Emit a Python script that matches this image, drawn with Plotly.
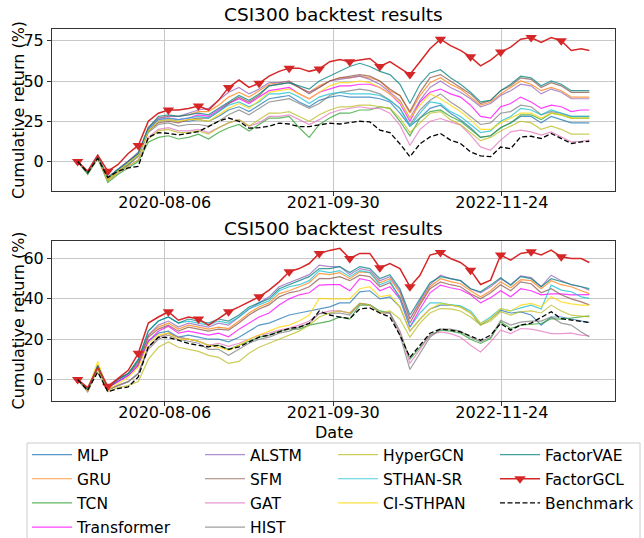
import pandas as pd
import plotly.graph_objects as go

# ---------------- data ----------------
start = pd.Timestamp("2020-01-02")
dates = [start + pd.Timedelta(days=round(25.1 * k)) for k in range(51)] + [pd.Timestamp("2023-06-30")]

tick_dates = ["2020-08-06", "2021-09-30", "2022-11-24"]

models = ["MLP", "GRU", "TCN", "Transformer", "ALSTM", "SFM", "GAT", "HIST",
          "HyperGCN", "STHAN-SR", "CI-STHPAN", "FactorVAE", "FactorGCL", "Benchmark"]

# CSI300 cumulative returns (%)
mlp_300 = [0, -7, 3, -11, -6, -2, 4, 19, 25, 26, 25, 25, 26, 25, 28, 32, 34, 31, 35, 39, 40, 41, 37, 34, 38, 40, 41, 40, 40, 40, 39, 37, 30, 22, 27, 33, 35, 30, 26, 21, 15, 16, 21, 24, 28, 28, 24, 28, 26, 24, 24, 24]
gru_300 = [0, -7, 3, -10, -5, 0, 5, 21, 27, 28, 28, 29, 31, 31, 35, 40, 43, 40, 44, 48, 49, 50, 46, 43, 47, 50, 52, 52, 53, 52, 50, 44, 41, 30, 41, 49, 52, 48, 45, 40, 35, 37, 42, 46, 50, 48, 44, 46, 44, 40, 40, 40]
tcn_300 = [0, -8, 2, -13, -8, -4, 0, 12, 15, 16, 14, 15, 17, 14, 18, 21, 23, 19, 23, 27, 27, 28, 21, 15, 23, 27, 30, 30, 32, 32, 34, 33, 25, 16, 27, 31, 32, 28, 25, 20, 15, 16, 21, 24, 29, 29, 26, 30, 29, 27, 27, 27]
transformer_300 = [0, -7, 3, -10, -5, 0, 5, 20, 26, 27, 26, 27, 29, 28, 32, 36, 39, 36, 40, 44, 45, 46, 42, 39, 43, 45, 47, 47, 48, 48, 46, 42, 36, 25, 37, 43, 45, 42, 40, 35, 28, 27, 34, 36, 40, 37, 33, 35, 34, 31, 32, 32]
alstm_300 = [0, -6, 4, -10, -5, 0, 6, 21, 27, 28, 28, 30, 32, 33, 38, 43, 46, 42, 45, 49, 49, 50, 46, 43, 46, 50, 51, 52, 53, 51, 48, 43, 38, 27, 38, 46, 50, 46, 43, 39, 34, 36, 41, 44, 48, 47, 42, 45, 43, 39, 39, 39]
sfm_300 = [0, -7, 3, -11, -6, -1, 4, 19, 24, 25, 24, 26, 27, 27, 31, 36, 40, 37, 41, 47, 48, 49, 46, 42, 46, 50, 52, 53, 54, 53, 50, 45, 41, 31, 43, 52, 54, 50, 46, 42, 36, 38, 44, 47, 52, 51, 46, 49, 47, 43, 43, 43]
gat_300 = [0, -7, 2, -12, -7, -3, 1, 15, 20, 21, 19, 19, 20, 18, 21, 24, 26, 22, 24, 28, 28, 29, 26, 23, 26, 30, 32, 33, 34, 33, 33, 30, 22.6, 10, 20, 25, 26.7, 24.6, 22.6, 16.4, 9.1, 7, 13.3, 18.4, 19.5, 18.4, 16.4, 18.4, 15.3, 12.2, 12.6, 13.3]
hist_300 = [0, -7, 2, -11, -6, -2, 3, 18, 23, 24, 22, 23, 23, 22, 25, 29, 32, 29, 33, 37, 38, 39, 36, 33, 36, 41, 43, 44, 45, 44, 42, 38, 33, 23, 32, 38, 42, 37, 33, 28, 23, 24, 30, 31, 35, 34, 29, 31, 30, 28, 28, 28]
hypergcn_300 = [0, -7, 2, -12, -7, -3, 1, 14, 19, 20, 18, 18, 19, 17, 21, 24, 26, 22, 26, 30, 30, 31, 28, 25, 29, 32, 34, 34, 35, 35, 34, 33, 27, 18, 24, 30, 31, 26, 23, 18, 13, 15, 19, 22, 25, 24, 20, 22, 20, 17, 17, 17]
sthan_300 = [0, -7, 3, -10, -5, -1, 4, 20, 26, 27, 26, 27, 28, 27, 31, 35, 37, 34, 37, 42, 42, 43, 40, 36, 40, 42, 43, 42, 42, 42, 41, 38, 33, 22, 30, 37, 36, 31, 28, 23, 18, 19, 25, 28, 33, 32, 29, 32, 30, 28, 28, 28]
cisthpan_300 = [0, -7, 3, -11, -6, -1, 4, 19, 25, 26, 25, 26, 26, 25, 29, 33, 36, 33, 38, 43, 44, 45, 42, 39, 43, 47, 49, 49, 50, 49, 46, 42, 37, 27, 35, 42, 39, 35, 31, 26, 20, 20, 24, 27, 30, 30, 27, 30, 29, 27, 27, 27]
factorvae_300 = [0, -7, 3, -10, -5, 0, 5, 21, 28, 29, 28, 29, 30, 29, 33, 37, 41, 38, 42, 47, 48, 49, 47, 45, 50, 53, 56, 59, 61, 59, 56, 54, 48, 36, 48, 55, 57, 52, 48, 43, 37, 38, 44, 48, 53, 52, 47, 50, 48, 44, 44, 44]
factorgcl_300 = [0, -6, 4, -6, -2, 5, 10, 25, 30, 32, 32, 33, 34.5, 32, 38, 46, 50.6, 46, 48.6, 53, 56, 58, 58, 56, 57.5, 62, 63.4, 62, 63, 64, 59, 62, 58, 54, 62, 70, 76, 72, 69, 65, 59.4, 63, 68, 71, 76, 77, 74, 77, 75, 69, 70, 69]
benchmark_300 = [0, -7, 2, -10, -6, -4, -3, 15, 18, 17.5, 16.5, 17.5, 18.6, 21.7, 25, 27, 25, 20.7, 21, 22, 23.8, 23.3, 21.7, 21.7, 22.7, 23.8, 23.3, 24, 25, 24.6, 19.5, 18, 11, 3, 11, 15.3, 17.4, 13.3, 11.2, 6, 3.5, 3, 9, 8, 15.3, 15.7, 14.3, 17.4, 14.3, 11.2, 12.2, 12.6]

# CSI500 cumulative returns (%)
mlp_500 = [0, -5, 6, -4, -1, 2, 7, 19, 23, 24, 21, 22, 21, 20, 20, 18.7, 21, 24, 27, 28, 30.2, 32, 33, 34, 35.2, 36, 38, 38, 43.5, 44, 40, 41, 36, 24, 30, 35, 36.9, 37, 36, 33, 27, 30, 34.4, 33, 33.5, 32, 27, 31, 31, 30, 29, 28.3]
gru_500 = [0, -5, 7, -4, 0, 3, 9, 22, 26, 28, 25, 27, 26, 25, 26, 25.3, 29, 33, 36, 38, 42.6, 44, 46, 48, 52.6, 52, 53, 50, 53.4, 53, 48, 50, 43, 30, 38, 46, 50, 48.5, 47.5, 44, 41, 44, 48.5, 45.5, 49.5, 49, 45, 49, 47, 46, 44, 42.6]
tcn_500 = [0, -5, 6, -5, -3, -1, 3, 16, 21, 23, 21, 20, 19, 17, 17, 15, 17, 19, 21, 22, 24, 25, 25, 27, 27.8, 29, 31, 30, 36.9, 37, 34, 33, 24, 10, 16, 22, 24.5, 24, 23, 20, 17.9, 20.3, 28.6, 25.3, 27, 27.5, 27.8, 30.2, 30, 30.5, 31, 31.6]
transformer_500 = [0, -5, 6, -4, -1, 2, 7, 19, 24, 26.4, 23, 24, 23, 22, 23, 21.2, 25, 28, 31, 33, 36.9, 40, 42, 43, 46.8, 47, 47, 44, 50, 49, 44, 46, 40, 26, 35, 43, 46.8, 45.5, 44.5, 42, 38, 40.5, 44, 41, 45, 44, 42, 42.5, 42.5, 42, 42, 42.1]
alstm_500 = [0, -6, 7, -4, 0, 3, 9, 22, 27, 29, 26, 28, 27, 26, 28, 27, 31, 35, 38, 41, 46, 48, 50, 52, 56.7, 56, 56, 52, 55, 54, 49, 51, 44, 30, 39, 47, 51.7, 50, 49, 45, 43, 46, 50, 47, 51.4, 50.5, 46, 51.7, 49, 47, 46, 44.3]
sfm_500 = [0, -5, 6, -4, 0, 3, 8, 21, 25, 27, 24, 26, 25, 24, 25, 24.5, 28, 32, 35, 37, 41, 43, 44, 46, 50, 50, 51, 49, 51.7, 51, 46, 48, 41, 28, 37, 45, 48.4, 47, 46, 42.5, 40, 43, 47, 44, 48.4, 47.5, 43, 45, 42, 40, 38.5, 37]
gat_500 = [0, -6, 6, -5, -3, -1, 3, 16, 21, 23, 21, 20, 19, 17, 18, 16.5, 18, 20, 22, 23, 24.5, 25.5, 27, 29, 32.7, 34, 34, 33, 37.7, 37, 33, 33, 24, 8, 15, 22, 23.6, 22.8, 21, 17, 13.7, 18.7, 24.5, 22.8, 25.3, 25, 24, 22.8, 22.8, 23, 22, 21.7]
hist_500 = [0, -5, 6, -5, -3, -1, 3, 15, 20, 22, 20, 19, 18, 15, 15, 12, 15, 18, 20, 21, 23, 24, 26, 28, 32.7, 33, 33, 32, 37.7, 37, 33, 33, 22, 5, 13, 21, 25, 25, 24, 21, 18.7, 21, 29.4, 27, 28.5, 29, 29, 31, 28, 27, 23.6, 21.2]
hypergcn_500 = [0, -6, 5, -6, -4, -3, -1, 10, 16, 18.7, 16, 15, 14, 12, 11, 8, 9, 13, 16, 18, 20, 22, 24, 27, 31, 33, 34, 33, 37.7, 37, 33, 34, 30, 21, 28, 33, 35.2, 35, 34, 31, 27, 29, 33.6, 32, 33.6, 34, 33, 36.9, 34, 31.9, 31.5, 31.1]
sthan_500 = [0, -5, 6, -4, 0, 3, 10, 24, 29, 31, 28, 29, 28, 27, 29, 28, 31, 35, 37, 39, 44, 46, 47, 49, 54, 53, 54, 51, 54, 53, 47, 49, 40, 26, 33, 38, 38, 37, 36.5, 34, 27.8, 31, 35.2, 34, 35.5, 36.9, 35, 46.8, 44.3, 43.5, 41, 40.2]
cisthpan_500 = [0, -5, 9, -5, -2, 1, 6, 18, 22, 23, 20, 20, 19, 17, 16, 14.5, 17, 20, 22, 24, 26, 27, 29, 32, 40.2, 40, 40, 40, 45, 46, 41, 42, 36, 24, 30, 35, 37.7, 37, 36, 33, 27.8, 30, 35.2, 34, 36.9, 37.7, 36, 41, 38.5, 37.5, 36.9, 36.9]
factorvae_500 = [0, -5, 7, -4, 0, 3, 10, 24, 29, 31, 28, 30, 29, 28, 30, 29, 32, 36, 38, 40, 45, 47, 49, 51, 55, 55, 56, 53, 56, 55, 50, 52, 45, 32, 40, 48, 51, 50, 49, 45, 43.5, 46.8, 50.4, 46.8, 51, 50, 46, 50, 48.4, 47.1, 46, 45.1]
factorgcl_500 = [0, -4, 6, -3.3, 0.5, 4.6, 13, 28, 31, 33.6, 29.4, 31, 30, 27, 30.2, 33.6, 36, 38.5, 41, 44.3, 48.4, 53.4, 55, 57.5, 62.5, 64, 65, 60, 62.5, 62.5, 55.4, 57.5, 55, 46, 51.7, 61.7, 63, 60, 58, 54.2, 47.1, 49.3, 61.7, 59.2, 62.5, 63.3, 61.7, 64.1, 60.8, 60, 60, 58]
benchmark_500 = [0, -5.3, 3.8, -6, -4.5, -3.6, 1.3, 16.2, 21, 20.8, 19.5, 17.9, 17, 16.2, 17, 15, 16.2, 18.7, 21, 22, 23.6, 25.3, 26, 27.8, 34, 32, 31, 30.2, 35, 35.5, 33, 31, 22, 11, 17, 23, 25, 24.5, 23.6, 21.5, 19.5, 22, 27.8, 24.5, 27, 28, 31, 33.6, 30.2, 29.4, 28.6, 28.3]

csi300 = [mlp_300, gru_300, tcn_300, transformer_300, alstm_300, sfm_300, gat_300, hist_300,
          hypergcn_300, sthan_300, cisthpan_300, factorvae_300, factorgcl_300, benchmark_300]
csi500 = [mlp_500, gru_500, tcn_500, transformer_500, alstm_500, sfm_500, gat_500, hist_500,
          hypergcn_500, sthan_500, cisthpan_500, factorvae_500, factorgcl_500, benchmark_500]

# ---------------- style ----------------
colors = ["#1f77b4", "#ff7f0e", "#2ca02c", "#ff00ff", "#9467bd", "#8c564b", "#e377c2", "#7f7f7f",
          "#bcbd22", "#17becf", "#ffd700", "#008080", "#d62728", "#000000"]
legend_of = ["legend", "legend", "legend", "legend", "legend2", "legend2", "legend2", "legend2",
             "legend3", "legend3", "legend3", "legend4", "legend4", "legend4"]

FONT = "DejaVu Sans"
RED = "#d62728"
marker_colors = [RED if (i % 3 == 0 and i <= 48) else "rgba(0,0,0,0)" for i in range(len(dates))]

fig = go.Figure()
for panel, (series_set, xa, ya) in enumerate([(csi300, "x", "y"), (csi500, "x2", "y2")]):
    for i, (name, vals) in enumerate(zip(models, series_set)):
        kw = dict(x=dates, y=vals, name=name, xaxis=xa, yaxis=ya,
                  legend=legend_of[i], legendgroup=name, legendrank=i,
                  showlegend=(panel == 0), hoverinfo="skip")
        if name == "FactorGCL":
            fig.add_trace(go.Scatter(mode="lines+markers",
                                     line=dict(color=colors[i], width=1.5),
                                     marker=dict(symbol="triangle-down", size=10,
                                                 color=marker_colors, line=dict(width=0)),
                                     **kw))
        elif name == "Benchmark":
            fig.add_trace(go.Scatter(mode="lines",
                                     line=dict(color=colors[i], width=1.3, dash="5px,2.5px"), **kw))
        else:
            fig.add_trace(go.Scatter(mode="lines", opacity=0.75,
                                     line=dict(color=colors[i], width=1.2), **kw))

W, H = 644, 538
L, R, T, B = 52, 29, 29, 137
plot_w = W - L - R
plot_h = H - T - B


def px_x(px):
    return (px - L) / plot_w


def px_y(py):
    return (H - B - py) / plot_h


axis_common = dict(showline=True, mirror=True, linecolor="#333333", linewidth=1,
                   ticks="outside", ticklen=4, tickcolor="#333333", ticklabelstandoff=-7,
                   showgrid=True, gridcolor="#c8c8c8", gridwidth=1,
                   tickfont=dict(family=FONT, size=16, color="black"), zeroline=False)
yaxis_common = dict(axis_common, ticklabelstandoff=0)

xrange_ = ["2019-10-30", "2023-09-02"]
title_font = dict(family=FONT, size=18.5, color="black")
label_font = dict(family=FONT, size=16, color="black")
fig.update_layout(
    width=W, height=H,
    margin=dict(l=L, r=R, t=T, b=B, autoexpand=False),
    paper_bgcolor="white", plot_bgcolor="white",
    font=dict(family=FONT, size=16, color="black"),
    xaxis=dict(domain=[0, 1], anchor="y", range=xrange_, tickvals=tick_dates,
               ticktext=tick_dates, **axis_common),
    yaxis=dict(domain=[px_y(191), 1], anchor="x", range=[-18.3, 82.3],
               tickvals=[0, 25, 50, 75], **yaxis_common),
    xaxis2=dict(domain=[0, 1], anchor="y2", range=xrange_, tickvals=tick_dates,
                ticktext=tick_dates, **axis_common),
    yaxis2=dict(domain=[0, px_y(240.5)], anchor="x2", range=[-10.6, 68.9],
                tickvals=[0, 20, 40, 60], **yaxis_common),
    annotations=[
        dict(text="CSI300 backtest results", xref="paper", yref="paper", x=0.5,
             y=px_y(14), xanchor="center", yanchor="middle", showarrow=False, font=title_font),
        dict(text="CSI500 backtest results", xref="paper", yref="paper", x=0.5,
             y=px_y(228), xanchor="center", yanchor="middle", showarrow=False, font=title_font),
        dict(text="Cumulative return (%)", xref="paper", yref="paper", x=px_x(18),
             y=px_y(110), xanchor="center", yanchor="middle", textangle=-90,
             showarrow=False, font=label_font),
        dict(text="Cumulative return (%)", xref="paper", yref="paper", x=px_x(18),
             y=px_y(320.5), xanchor="center", yanchor="middle", textangle=-90,
             showarrow=False, font=label_font),
        dict(text="Date", xref="paper", yref="paper", x=0.5, y=px_y(432),
             xanchor="center", yanchor="middle", showarrow=False, font=label_font),
    ],
    shapes=[
        dict(type="rect", xref="paper", yref="paper",
             x0=px_x(27), x1=px_x(640), y0=px_y(560), y1=px_y(443),
             line=dict(color="#cccccc", width=1), fillcolor="white", layer="below"),
    ],
)

legend_common = dict(orientation="v", xref="container", yref="container", yanchor="top",
                     xanchor="left", bgcolor="rgba(0,0,0,0)", borderwidth=0,
                     font=dict(family=FONT, size=15.5, color="black"),
                     traceorder="grouped", tracegroupgap=1, itemsizing="trace",
                     itemwidth=40)
col_x = [27, 200, 333, 495]
ly = 1 - 438 / H
fig.update_layout(
    legend=dict(x=col_x[0] / W, y=ly, **legend_common),
    legend2=dict(x=col_x[1] / W, y=ly, **legend_common),
    legend3=dict(x=col_x[2] / W, y=ly, **legend_common),
    legend4=dict(x=col_x[3] / W, y=ly, **legend_common),
)

fig.write_html("out.html", config={"displayModeBar": False})

with open("out.html", encoding="utf-8") as f:
    html = f.read()
html = html.replace("<body>", '<body style="margin:0;padding:0;overflow:hidden">', 1)
with open("out.html", "w", encoding="utf-8") as f:
    f.write(html)
